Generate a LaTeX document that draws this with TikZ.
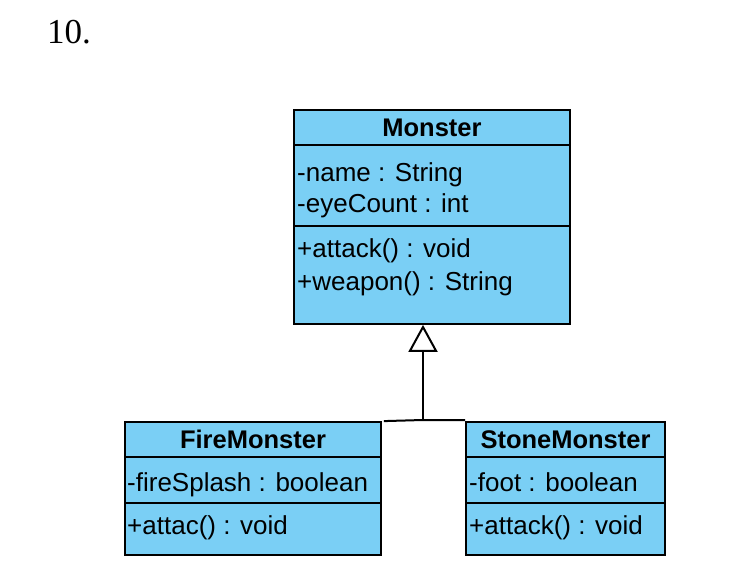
\documentclass[tikz,border=0pt]{standalone}
\usepackage{fontspec}
\setmainfont{Liberation Sans}
\newfontfamily\serifnum{Liberation Serif}
\usetikzlibrary{arrows.meta}
\definecolor{umlblue}{RGB}{122,207,245}
\begin{document}
\begin{tikzpicture}[x=1pt,y=-1pt,
  cls/.style={draw=black, line width=1.8pt, fill=umlblue, inner sep=0pt},
  sep/.style={draw=black, line width=1.8pt},
  txt/.style={anchor=base west, inner sep=0pt, font=\fontsize{26}{30}\selectfont},
  ttl/.style={anchor=base, inner sep=0pt, font=\bfseries\fontsize{25.5}{30}\selectfont},
  conn/.style={draw=black, line width=2pt}]
\useasboundingbox (0,0) rectangle (733,577);
\node[anchor=base west, inner sep=0pt, font=\serifnum\fontsize{35}{40}\selectfont] (num) at (47,44) {10.};
% Monster
\node[cls, minimum width=276pt, minimum height=214pt] (monster) at (432,217) {};
\draw[sep] (294,145) -- (570,145);
\draw[sep] (294,226) -- (570,226);
\node[ttl] (mt) at (432,137) {Monster};
\node[txt] (m1) at (297,182) {-name : String};
\node[txt] (m2) at (297,213) {-eyeCount : int};
\node[txt] (m3) at (297,258) {+attack() : void};
\node[txt] (m4) at (297,290) {+weapon() : String};
% FireMonster
\node[cls, minimum width=256pt, minimum height=133pt] (fire) at (253,488.5) {};
\draw[sep] (125,457) -- (381,457);
\draw[sep] (125,503) -- (381,503);
\node[ttl] (ft) at (253,448) {FireMonster};
\node[txt] (f1) at (127,491) {-fireSplash : boolean};
\node[txt] (f2) at (127,534) {+attac() : void};
% StoneMonster
\node[cls, minimum width=199pt, minimum height=133pt] (stone) at (565.5,488.5) {};
\draw[sep] (466,457) -- (665,457);
\draw[sep] (466,503) -- (665,503);
\node[ttl] (st) at (565.5,448) {StoneMonster};
\node[txt] (s1) at (469,491) {-foot : boolean};
\node[txt] (s2) at (469,534) {+attack() : void};
% generalization
\coordinate (j) at (423,420);
\draw[conn] ([xshift=2pt]fire.north east) -- (j) -- (j -| stone.west);
\draw[conn, -{Triangle[open, length=27pt, width=29pt, line width=2pt]}] (j) -- (j |- monster.south);
\end{tikzpicture}
\end{document}
